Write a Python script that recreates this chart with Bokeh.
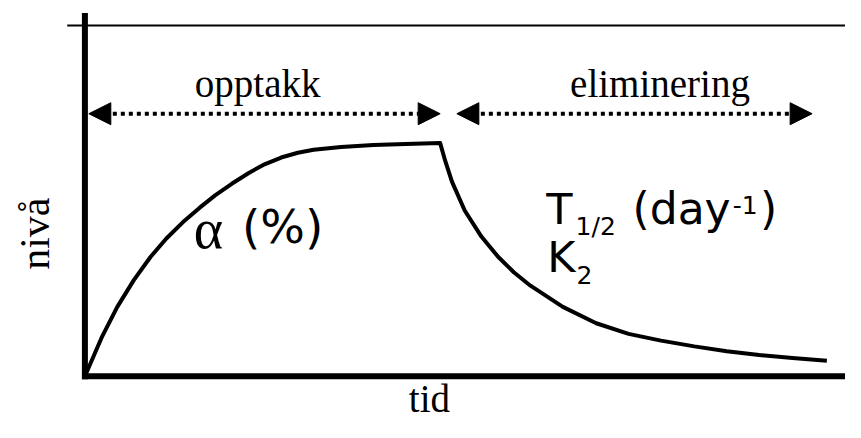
import math
from bokeh.plotting import figure
from bokeh.models import Range1d, Label, Arrow, NormalHead
from bokeh.embed import file_html
from bokeh.resources import INLINE

# ---- data (time and level in arbitrary units) ----
t_uptake = [0, 17, 33, 50, 67, 83, 100, 117, 133, 150, 167, 183, 200, 217, 233,
            261, 294, 327, 362]
lvl_uptake = [0, 40, 72, 100, 124, 143, 160, 175, 188, 200, 211, 220, 227, 232, 235,
              238, 240, 241, 242]
t_elim = [362, 367, 374, 387, 404, 421, 437, 454, 487, 521, 554, 587, 621, 654, 687,
          721, 756]
lvl_elim = [242, 224, 202, 172, 145, 124, 108, 94, 72, 55, 44, 37, 31, 26, 22, 19, 16]

phase_labels = ["opptakk", "eliminering"]
x_label = "tid"
y_label = "nivå"

# ---- layout helpers (reference pixel -> data) ----
def px_x(X):
    return X - 86

def px_y(Y):
    return 390 - Y

W, H = 845, 422
p = figure(width=W, height=H, output_backend="svg", toolbar_location=None,
           x_range=Range1d(px_x(0), px_x(861)), y_range=Range1d(px_y(438), px_y(0)),
           x_axis_type=None, y_axis_type=None, min_border=0)
p.grid.visible = False
p.outline_line_color = None
p.background_fill_color = "white"
p.border_fill_color = "white"

# thin top line
p.segment(x0=[px_x(68)], y0=[px_y(26)], x1=[px_x(880)], y1=[px_y(26)],
          line_color="black", line_width=2)
# axes
p.segment(x0=[0], y0=[px_y(393)], x1=[0], y1=[px_y(13)], line_color="black", line_width=6)
p.segment(x0=[px_x(83)], y0=[0], x1=[px_x(880)], y1=[0], line_color="black", line_width=6)

# curve
p.line(t_uptake + t_elim[1:], lvl_uptake + lvl_elim[1:], line_color="black",
       line_width=4, line_join="round")

# arrows
def head():
    return NormalHead(size=22, fill_color="black", line_color="black", line_width=1)

for x0, x1 in [(90, 448), (465, 827)]:
    p.add_layout(Arrow(start=head(), end=head(), x_start=px_x(x0), y_start=px_y(117.5),
                       x_end=px_x(x1), y_end=px_y(117.5), line_width=4,
                       line_dash="4 4", line_color="black"))

SERIF = "Liberation Serif"
SANS = "DejaVu Sans"

def lab(X, Y, text, font, size, align="left", angle=0.0):
    k = 0.36 if font == SANS else 0.27
    if angle:
        X = X - k * size
    else:
        Y = Y - k * size
    p.add_layout(Label(x=px_x(X), y=px_y(Y), text=text, text_font=font,
                       text_font_size=f"{size}px", text_align=align,
                       text_baseline="alphabetic", text_color="black", angle=angle))

lab(262, 97, phase_labels[0], SERIF, 39, "center")
lab(672, 97, phase_labels[1], SERIF, 39, "center")
lab(437, 424, x_label, SERIF, 39, "center")
lab(47, 242, y_label, SERIF, 42, "center", angle=math.pi / 2)

# alpha (%)
lab(197, 252, "α", SERIF, 56)
lab(246, 252, "(%)", SANS, 47)

# T1/2 (day-1)
lab(556, 232, "T", SANS, 43)
lab(586, 244, "1/2", SANS, 25)
lab(644, 232, "(day", SANS, 44)
lab(746, 221, "-1", SANS, 25)
lab(774, 232, ")", SANS, 44)
# K2
lab(557, 282, "K", SANS, 43)
lab(587, 294, "2", SANS, 25)

open("out.html", "w").write(file_html(p, INLINE))
